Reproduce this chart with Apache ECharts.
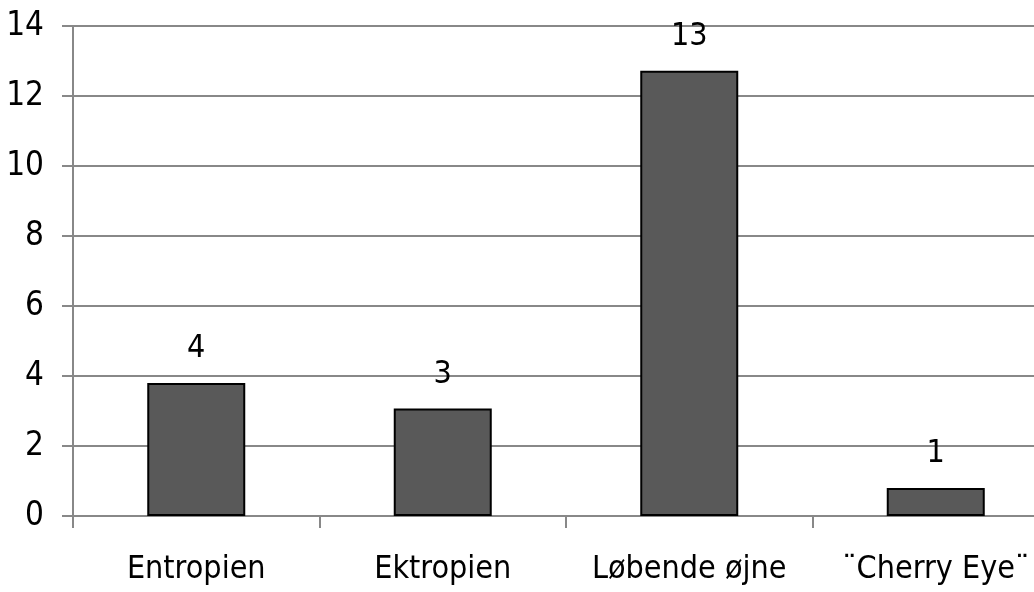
<!DOCTYPE html>
<html>
<head>
<meta charset="utf-8">
<script src="https://cdn.jsdelivr.net/npm/echarts@6/dist/echarts.min.js"></script>
<style>
html,body{margin:0;padding:0;background:#fff;overflow:hidden;width:1034px;height:592px;}
#c{width:1059px;height:592px;}
</style>
</head>
<body>
<div id="c"></div>
<script>
const categories = ['Entropien', 'Ektropien', 'Løbende øjne', '"Cherry Eye"'];
const values = [3.8, 3.07, 12.72, 0.8];
const valueLabels = ['4', '3', '13', '1'];
const yTicks = [0, 2, 4, 6, 8, 10, 12, 14];

const FONT = '"DejaVu Sans Condensed", "DejaVu Sans", sans-serif';
const chart = echarts.init(document.getElementById('c'), null, {renderer: 'canvas'});
chart.setOption({
  animation: false,
  backgroundColor: '#ffffff',
  grid: {left: 73, top: 26, right: 0, bottom: 76, containLabel: false},
  xAxis: {
    type: 'category',
    data: categories,
    boundaryGap: true,
    axisLine: {show: true, lineStyle: {color: '#888888', width: 2}},
    axisTick: {show: true, alignWithLabel: false, length: 12, lineStyle: {color: '#888888', width: 2}},
    axisLabel: {
      color: '#000', fontFamily: FONT, fontSize: 32, margin: 38, interval: 0,
      formatter: v => v.replace(/"/g, '¨')
    },
    splitLine: {show: false}
  },
  yAxis: {
    type: 'value',
    min: yTicks[0],
    max: yTicks[yTicks.length - 1],
    interval: 2,
    axisLine: {show: true, lineStyle: {color: '#888888', width: 2}},
    axisTick: {show: true, length: 11, lineStyle: {color: '#888888', width: 2}},
    axisLabel: {color: '#000', fontFamily: FONT, fontSize: 33, margin: 29},
    splitLine: {show: true, lineStyle: {color: '#888888', width: 2}}
  },
  series: [{
    type: 'bar',
    data: values,
    barWidth: 98,
    itemStyle: {color: '#595959', borderColor: '#000000', borderWidth: 2},
    label: {
      show: true, position: 'top', distance: 18,
      color: '#000', fontFamily: FONT, fontSize: 32,
      formatter: p => valueLabels[p.dataIndex]
    }
  }]
});
</script>
</body>
</html>
